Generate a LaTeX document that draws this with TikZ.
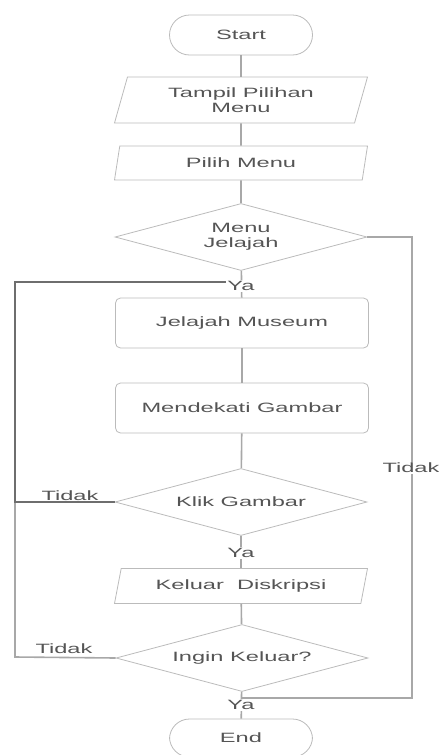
\documentclass[tikz,border=0pt]{standalone}
\usepackage{fontspec}
\setmainfont{Liberation Sans}[FakeStretch=1.75]
\usetikzlibrary{shapes.geometric}
\definecolor{txt}{HTML}{555555}
\definecolor{edge}{HTML}{BBBBBB}
\definecolor{ln}{HTML}{A8A8A8}
\definecolor{lnd}{HTML}{6E6E6E}
\begin{document}
\begin{tikzpicture}[x=1pt,y=-1pt,
  base/.style={draw=edge,line width=0.8pt,text=txt,font=\fontsize{13.5}{14.5}\selectfont,align=center,inner sep=0pt},
  term/.style={base,rounded corners=20pt,minimum width=143pt,minimum height=40pt},
  io/.style={base,trapezium,trapezium left angle=62,trapezium right angle=118,trapezium stretches body,minimum width=253pt},
  proc/.style={base,rounded corners=5pt,minimum width=253pt,minimum height=50pt},
  dec/.style={base,diamond,aspect=3.75,minimum width=252pt,minimum height=67pt},
  conn/.style={draw=ln,line width=1.6pt},
  connd/.style={draw=lnd,line width=2.2pt},
  lab/.style={text=txt,font=\fontsize{13.5}{14.5}\selectfont,inner sep=1pt}]
\useasboundingbox (0,0) rectangle (439,755);
\node[term] (start) at (241,35) {Start};
\node[io,minimum height=46pt] (tampil) at (241,100) {Tampil Pilihan\\Menu};
\node[io,minimum height=34pt] (pilih) at (241,163) {Pilih Menu};
\node[dec] (menu) at (241,237) {Menu\\Jelajah};
\node[proc] (jelajah) at (242,323) {Jelajah Museum};
\node[proc] (dekati) at (242,408) {Mendekati Gambar};
\node[dec] (klik) at (241,502) {Klik Gambar};
\node[io,minimum height=35pt] (keluar) at (241,586) {Keluar\ \ Diskripsi};
\node[dec] (ingin) at (242,658) {Ingin Keluar?};
\node[term,minimum height=38pt] (end) at (241,738) {End};
\coordinate (loopTop) at (15,282);
\coordinate (loopMid) at (15,502);
\coordinate (loopBot) at (15,657);
\coordinate (rTop) at (412,237);
\coordinate (rBot) at (412,698);
\coordinate (joinTop) at (241,282);
\coordinate (joinBot) at (241,698);
% vertical flow
\draw[conn] (start) -- (tampil);
\draw[conn] (tampil) -- (pilih);
\draw[conn] (pilih) -- (menu);
\draw[conn] (menu) -- (jelajah);
\draw[conn] (jelajah) -- (dekati);
\draw[conn] (dekati) -- (klik);
\draw[conn] (klik) -- (keluar);
\draw[conn] (keluar) -- (ingin);
\draw[conn] (ingin) -- (end);
% loops
\draw[conn] (ingin.west) -- (loopBot) -- (loopMid);
\draw[connd] (klik.west) -- (loopMid) -- (loopTop) -- (joinTop);
\draw[conn] (menu.east) -- (rTop) -- (rBot) -- (joinBot);
% labels
\node[lab,fill=white] (ya1) at (241,286) {Ya};
\node[lab,fill=white] (ya2) at (241,553) {Ya};
\node[lab,fill=white] (ya3) at (241,705) {Ya};
\node[lab,fill=white] (tidakR) at (411,468) {Tidak};
\node[lab] (tidakK) at (70,496) {Tidak};
\node[lab] (tidakI) at (64,649) {Tidak};
\end{tikzpicture}
\end{document}
